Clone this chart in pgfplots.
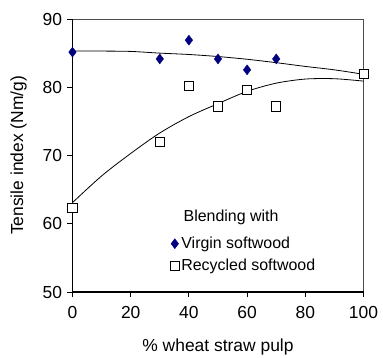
\documentclass[border=0pt]{standalone}
\usepackage{pgfplots}
\pgfplotsset{compat=1.18}
\usepackage{fontspec}
\setmainfont{Liberation Sans}
\definecolor{navy}{RGB}{0,0,128}
\begin{document}
\fontsize{16}{19}\selectfont
\begin{tikzpicture}
\path[use as bounding box] (-72.5bp,-66bp) rectangle (310.5bp,292bp);
\begin{axis}[
  at={(0,0)}, anchor=south west,
  scale only axis, width=291bp, height=273bp,
  xmin=0, xmax=100, ymin=50, ymax=90,
  xtick={0,20,...,100}, ytick={50,60,...,90},
  xtick pos=bottom, ytick pos=left,
  tick align=outside, major tick length=5bp,
  tick style={black, line width=0.8bp},
  axis line style={draw=none},
  /pgf/number format/assume math mode=true,
  ticklabel style={font=\fontsize{17.5}{20}\selectfont},
  xticklabel style={yshift=-4bp},
  xlabel={\% wheat straw pulp},
  ylabel={Tensile index (Nm/g)},
  label style={font=\fontsize{17.5}{20}\selectfont},
  xlabel style={yshift=-9bp},
  ylabel style={yshift=5bp},
  clip=false,
  legend style={draw=none, fill=none, at={(0.335,0.063)}, anchor=south west,
    font=\fontsize{16}{19}\selectfont, row sep=4bp, inner sep=0pt,
    cells={anchor=west}},
  legend cell align=left,
]
\draw[gray!60!black, line width=0.6bp] (rel axis cs:0,1) -- (rel axis cs:1,1) -- (rel axis cs:1,0);
\draw[black, line width=1.1bp] (rel axis cs:0,1) -- (rel axis cs:0,0) -- (rel axis cs:1,0);
% trend lines
\addplot[black, line width=0.8bp, smooth, forget plot] coordinates {
 (0,85.3) (10,85.3) (20,85.25) (30,85.0) (40,84.8) (50,84.5) (60,84.1) (70,83.6) (80,83.05) (90,82.55) (100,81.9)};
\addplot[black, line width=0.8bp, smooth, forget plot] coordinates {
 (0,63.1) (10,67.0) (20,70.3) (30,73.3) (40,75.7) (50,77.6) (60,79.4) (70,80.6) (80,81.2) (90,81.25) (100,80.9)};
\addplot[only marks, mark=diamond*, mark size=5bp, mark options={fill=navy, draw=navy}, color=navy]
 coordinates {(0,85.15) (30,84.15) (40,86.9) (50,84.15) (60,82.55) (70,84.15)};
\addlegendentry{Virgin softwood}
\addplot[only marks, mark=square*, mark size=4.6bp, mark options={fill=white, draw=black, line width=0.8bp}]
 coordinates {(0,62.3) (30,72.0) (40,80.2) (50,77.2) (60,79.6) (70,77.2) (100,82.0)};
\addlegendentry{Recycled softwood}
\node[anchor=west, font=\fontsize{16}{19}\selectfont] at (axis cs:36.3,60.9) {Blending with};
\end{axis}
\end{tikzpicture}
\end{document}
